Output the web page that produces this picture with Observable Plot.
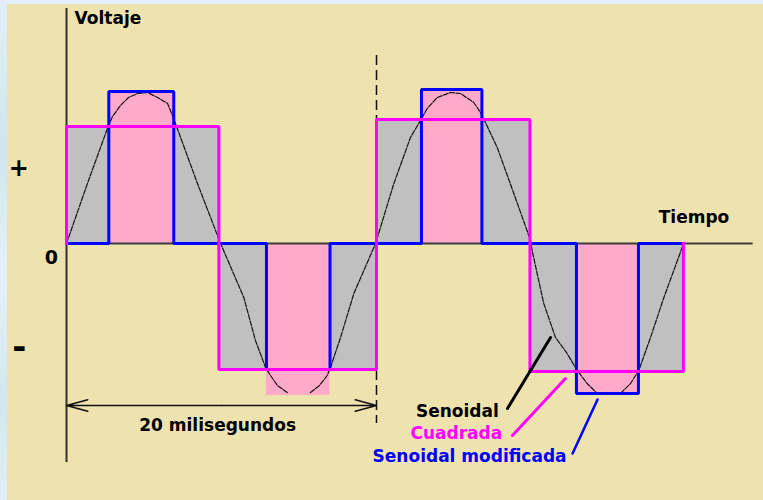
<!DOCTYPE html>
<html>
<head>
<meta charset="utf-8">
<script src="https://cdn.jsdelivr.net/npm/d3@7"></script>
<script src="https://cdn.jsdelivr.net/npm/@observablehq/plot@0.6"></script>
<style>
  html, body { margin: 0; padding: 0; }
  body {
    width: 763px; height: 500px; overflow: hidden;
    background-color: #d9e8f7;
    background-image: linear-gradient(180deg, #e3eefa 0%, #d3e3f4 30%, #e6f0fb 55%, #d5e4f5 80%, #e2edf9 100%);
  }
  #chart { position: absolute; left: 7px; top: 4px; }
  #chart svg { display: block; }
</style>
</head>
<body>
<div id="chart"></div>
<script>
// ---- Data (time in milliseconds, voltage in arbitrary units) ----
const squareEdges  = [0, 9.83, 20, 29.9, 39.8];
const squareLevels = [1.17, -1.26, 1.24, -1.28];

const modEdges  = [0, 2.73, 6.92, 12.9, 17.0, 22.9, 26.8, 32.9, 36.9, 39.8];
const modLevels = [0, 1.52, 0, -1.26, 0, 1.54, 0, -1.50, 0];

const pulseStart  = [2.73, 12.9, 22.9, 32.9];
const pulseEnd    = [6.92, 17.0, 26.8, 36.9];
const pulseLevels = [1.52, -1.52, 1.54, -1.50];

const sineTime = [0, 1.35, 2.71, 2.97, 3.48, 4.0, 4.58, 5.23, 5.87, 6.52, 6.84, 7.03, 8.45, 9.94,
  11.44, 12.19, 12.84, 13.16, 13.61, 14.24, 14.9, 15.74, 16.32, 16.82, 17.03, 17.68, 18.54, 19.94,
  21.12, 22.19, 22.84, 23.27, 23.92, 24.77, 25.42, 26.28, 26.71, 27.03, 27.79, 28.86, 29.94,
  30.04, 30.79, 31.55, 32.30, 32.95, 33.59, 34.24, 35.74, 36.39, 36.92, 37.68, 38.54, 39.72, 39.83];
const sineVolt = [0, 0.60, 1.18, 1.27, 1.38, 1.46, 1.50, 1.51, 1.46, 1.40, 1.28, 1.20, 0.60, 0,
  -0.54, -0.97, -1.24, -1.32, -1.42, -1.49, NaN, -1.49, -1.42, -1.32, -1.24, -0.94, -0.50, 0,
  0.60, 1.06, 1.23, 1.35, 1.46, 1.51, 1.50, 1.41, 1.31, 1.21, 0.96, 0.50, 0.03,
  -0.07, -0.60, -0.94, -1.10, -1.27, -1.40, -1.50, -1.50, -1.40, -1.27, -0.94, -0.54, -0.04, 0];

const period = 20;            // ms, marked by the dimension arrow
const timeAxisEnd = 44.3;     // ms
const labelTexts  = ["Senoidal", "Cuadrada", "Senoidal modificada"];
const labelColors = ["#000000", "#ff00ff", "#0000ff"];

// ---- Derived tables ----
function stepPath(edges, levels) {
  const pts = [{t: edges[0], v: 0}];
  levels.forEach((v, i) => { pts.push({t: edges[i], v}); pts.push({t: edges[i + 1], v}); });
  pts.push({t: edges[edges.length - 1], v: 0});
  return pts;
}
const squarePath = stepPath(squareEdges, squareLevels);
const modPath = stepPath(modEdges, modLevels);
const squareRects = squareLevels.map((v, i) => ({x1: squareEdges[i], x2: squareEdges[i + 1], v}));
const pulseRects = pulseLevels.map((v, i) => ({x1: pulseStart[i], x2: pulseEnd[i], v}));
const sine = sineTime.map((t, i) => ({t, v: sineVolt[i]}));

// annotation placement (data units)
const labels = [
  {text: labelTexts[0], color: labelColors[0], x: 27.89, y: -1.737},
  {text: labelTexts[1], color: labelColors[1], x: 28.11, y: -1.953},
  {text: labelTexts[2], color: labelColors[2], x: 32.26, y: -2.18}
];
const leaders = [
  {x1: 28.45, y1: -1.65, x2: 31.23, y2: -0.94, color: labelColors[0], w: 3},
  {x1: 28.77, y1: -1.92, x2: 32.19, y2: -1.35, color: labelColors[1], w: 3},
  {x1: 32.65, y1: -2.10, x2: 34.26, y2: -1.56, color: labelColors[2], w: 2.5}
];

const chart = Plot.plot({
  width: 756,
  height: 496,
  margin: 0,
  x: {domain: [0, 20], range: [59, 369], axis: null},
  y: {domain: [0, 1], range: [239, 139], axis: null},
  style: {background: "#eee2ae", fontFamily: "DejaVu Sans", fontWeight: "bold", fontSize: "17px"},
  marks: [
    Plot.ruleX([period], {y1: 1.88, y2: -1.80, stroke: "#111", strokeWidth: 1.5, strokeDasharray: "10 5"}),
    Plot.rect(squareRects, {x1: "x1", x2: "x2", y1: 0, y2: "v", fill: "#c0c0c0"}),
    Plot.rect(pulseRects, {x1: "x1", x2: "x2", y1: 0, y2: "v", fill: "#ffaac8"}),
    Plot.ruleY([0], {x1: 0, x2: timeAxisEnd, stroke: "#3c3c3c", strokeWidth: 2}),
    Plot.ruleX([0], {y1: 2.35, y2: -2.19, stroke: "#333", strokeWidth: 2}),
    Plot.line(sine, {x: "t", y: "v", stroke: "#111", strokeWidth: 1.2, strokeDasharray: "5 1.5"}),
    Plot.line(modPath, {x: "t", y: "v", stroke: "#0000ff", strokeWidth: 3, strokeLinejoin: "miter", strokeLinecap: "square"}),
    Plot.line(squarePath, {x: "t", y: "v", stroke: "#ff00ff", strokeWidth: 3, strokeLinejoin: "miter", strokeLinecap: "square"}),
    Plot.arrow([{a: period / 2, b: 0}, {a: period / 2, b: period}], {
      x1: "a", x2: "b", y1: -1.62, y2: -1.62, stroke: "#111", strokeWidth: 1.5, headAngle: 30, headLength: 22
    }),
    Plot.link(leaders, {x1: "x1", y1: "y1", x2: "x2", y2: "y2", stroke: "color", strokeWidth: "w", strokeLinecap: "round"}),
    Plot.text(labels, {x: "x", y: "y", text: "text", fill: "color", textAnchor: "end", lineAnchor: "bottom"}),
    Plot.text(["20 milisegundos"], {x: 9.75, y: -1.877, textAnchor: "middle", lineAnchor: "bottom", fill: "#000"}),
    Plot.text(["Voltaje"], {x: 0.52, y: 2.20, textAnchor: "start", lineAnchor: "bottom", fill: "#000"}),
    Plot.text(["Tiempo"], {x: 38.21, y: 0.203, textAnchor: "start", lineAnchor: "bottom", fill: "#000"}),
    Plot.text(["0"], {x: -0.98, y: -0.20, textAnchor: "middle", lineAnchor: "bottom", fill: "#000", fontSize: 19}),
    Plot.text(["+"], {x: -3.08, y: 0.75, textAnchor: "middle", lineAnchor: "middle", fill: "#000", fontSize: 24}),
    Plot.text(["-"], {x: -3.05, y: -1.04, textAnchor: "middle", lineAnchor: "middle", fill: "#000", fontSize: 34})
  ]
});
document.getElementById("chart").appendChild(chart);
</script>
</body>
</html>
